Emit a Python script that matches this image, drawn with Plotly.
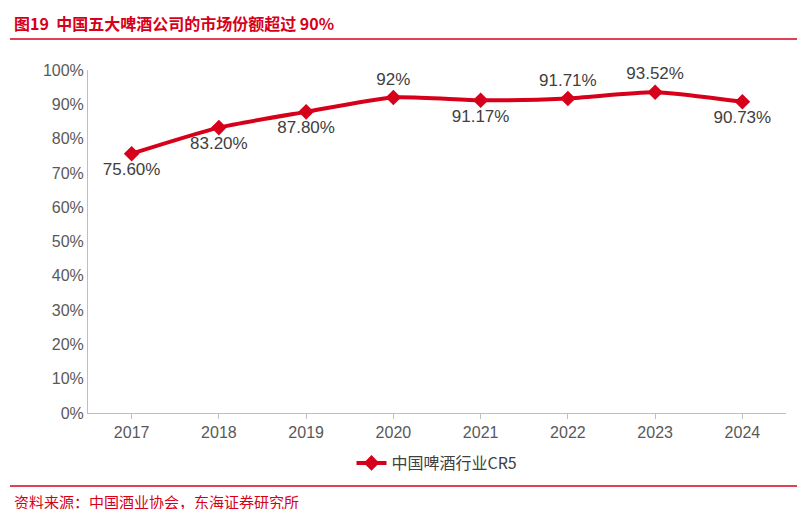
import plotly.graph_objects as go

years = ["2017", "2018", "2019", "2020", "2021", "2022", "2023", "2024"]
cr5 = [75.60, 83.20, 87.80, 92.0, 91.17, 91.71, 93.52, 90.73]
labels = ["75.60%", "83.20%", "87.80%", "92%", "91.17%", "91.71%", "93.52%", "90.73%"]
label_pos = ["bottom center", "bottom center", "bottom center", "top center",
             "bottom center", "top center", "top center", "bottom center"]
yticks = list(range(0, 101, 10))

red = "#D7001B"
W, H = 805, 509
L, T, PW, PH = 80, 62, 698, 343
fig = go.Figure()
fig.add_trace(go.Scatter(
    x=years, y=cr5, mode="lines+markers+text", name="中国啤酒行业CR5",
    line=dict(color=red, width=4, shape="spline", smoothing=0.6),
    marker=dict(symbol="diamond", size=12, color=red),
    text=labels, textposition=label_pos, cliponaxis=False,
    textfont=dict(family="Liberation Sans, Arial", size=17, color="#404040"),
))
fig.update_layout(
    width=W, height=H, plot_bgcolor="white", paper_bgcolor="white",
    font=dict(family="Noto Sans CJK SC", color="#595959"),
    margin=dict(l=L, r=W-L-PW, t=T, b=H-T-PH, autoexpand=False),
    xaxis=dict(showline=True, linecolor="#BFBFBF", ticks="outside", tickcolor="#BFBFBF",
               ticklen=5, automargin=False,
               tickfont=dict(family="Liberation Sans, Arial", size=16, color="#595959"),
               range=[-0.5, 7.5]),
    yaxis=dict(range=[0, 100], tickvals=yticks, ticktext=[f"{v}%" for v in yticks],
               showgrid=False, showline=True, linecolor="#BFBFBF", automargin=False,
               tickfont=dict(family="Liberation Sans, Arial", size=16, color="#595959"),
               zeroline=False),
    showlegend=True,
    legend=dict(orientation="h", x=0.5, xanchor="center", y=-(455-405)/PH, yanchor="middle",
                font=dict(size=16, color="#404040")),
    annotations=[
        dict(text="<b>图19  中国五大啤酒公司的市场份额超过 90%</b>", xref="paper", yref="paper",
             x=-(L-4)/PW, y=1+(T-15)/PH, xanchor="left", yanchor="middle", showarrow=False,
             font=dict(size=16, color=red)),
        dict(text="资料来源：中国酒业协会，东海证券研究所", xref="paper", yref="paper",
             x=-(L-4)/PW, y=-(493-405)/PH, xanchor="left", yanchor="middle", showarrow=False,
             font=dict(size=15, color=red)),
    ],
    shapes=[
        dict(type="line", xref="paper", yref="paper", x0=-(L-2)/PW, x1=1+25/PW,
             y0=1+(T-31)/PH, y1=1+(T-31)/PH, line=dict(color=red, width=1.5)),
        dict(type="line", xref="paper", yref="paper", x0=-(L-2)/PW, x1=1+25/PW,
             y0=-(478-405)/PH, y1=-(478-405)/PH, line=dict(color=red, width=1.5)),
    ],
)
fig.write_html("out.html")
